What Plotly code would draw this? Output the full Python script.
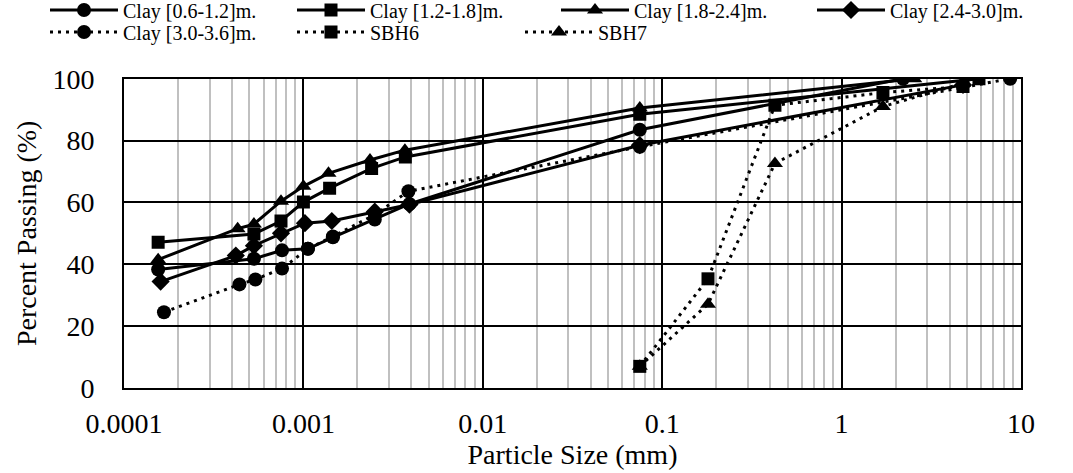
import plotly.graph_objects as go

# ---- data (particle size in mm, percent passing) ----
clay1_x = [0.000155, 0.00053, 0.00076, 0.00106, 0.00146, 0.0025, 0.0039, 0.075, 2.2]
clay1_y = [38.3, 41.8, 44.5, 45.0, 48.7, 54.5, 59.5, 83.5, 100]

clay2_x = [0.000155, 0.00053, 0.00075, 0.001, 0.0014, 0.0024, 0.0037, 0.075, 5.83]
clay2_y = [47.1, 49.8, 54.0, 60.1, 64.6, 71.0, 74.7, 88.5, 100]

clay3_x = [0.000155, 0.00043, 0.00053, 0.00075, 0.001, 0.00138, 0.00235, 0.00368, 0.075, 2.54]
clay3_y = [41.5, 51.5, 53.0, 60.4, 65.2, 69.4, 73.7, 76.9, 90.5, 100]

clay4_x = [0.00016, 0.00042, 0.00053, 0.00075, 0.00102, 0.00144, 0.0025, 0.0039, 0.075, 4.75]
clay4_y = [34.4, 42.8, 46.0, 50.0, 53.3, 54.0, 57.0, 59.3, 78.5, 98.0]

clay5_x = [0.000167, 0.00044, 0.00054, 0.00076, 0.00106, 0.00146, 0.0025, 0.00385, 0.075, 8.7]
clay5_y = [24.5, 33.5, 35.1, 38.6, 45.0, 49.0, 56.0, 63.6, 78.0, 100]

sbh6_x = [0.075, 0.18, 0.425, 1.7, 4.75]
sbh6_y = [7.0, 35.3, 91.4, 95.5, 97.5]

sbh7_x = [0.075, 0.18, 0.425, 1.7, 4.75]
sbh7_y = [7.0, 27.1, 72.6, 91.0, 98.5]

tick_vals = [0.0001, 0.001, 0.01, 0.1, 1, 10]
tick_text = ["0.0001", "0.001", "0.01", "0.1", "1", "10"]

names = ["Clay [0.6-1.2]m.", "Clay [1.2-1.8]m.", "Clay [1.8-2.4]m.", "Clay [2.4-3.0]m.",
         "Clay [3.0-3.6]m.", "SBH6", "SBH7"]

FONT = "Times New Roman, Liberation Serif, serif"
W, H = 1073, 473

series = [
    (clay1_x, clay1_y, "circle", "solid", 14),
    (clay2_x, clay2_y, "square", "solid", 13),
    (clay3_x, clay3_y, "triangle-up", "solid", 14),
    (clay4_x, clay4_y, "diamond", "solid", 14),
    (clay5_x, clay5_y, "circle", "3px,5px", 14),
    (sbh6_x, sbh6_y, "square", "3px,5px", 13),
    (sbh7_x, sbh7_y, "triangle-up", "3px,5px", 14),
]

# legend positions (pixel: left of legend box, vertical centre)
leg_pos = [(45, 10), (292, 10), (556, 10), (812, 10),
           (45, 32), (292, 32), (520, 32)]

fig = go.Figure()
for i, ((xs, ys, sym, dash, ms), nm) in enumerate(zip(series, names)):
    lg = "legend" if i == 0 else f"legend{i+1}"
    fig.add_trace(go.Scatter(
        x=xs, y=ys, name=nm, mode="lines+markers",
        line=dict(color="black", width=3, dash=dash),
        marker=dict(symbol=sym, size=ms, color="black"),
        legend=lg, showlegend=True,
    ))

layout_legends = {}
for i, (px, py) in enumerate(leg_pos):
    key = "legend" if i == 0 else f"legend{i+1}"
    layout_legends[key] = dict(
        x=px / W, y=1 - py / H, xref="container", yref="container",
        xanchor="left", yanchor="middle", orientation="h",
        bgcolor="rgba(0,0,0,0)", borderwidth=0, itemwidth=68,
        font=dict(family=FONT, size=20, color="black"),
        tracegroupgap=0,
    )

fig.update_layout(
    width=W, height=H,
    margin=dict(l=124, r=52, t=74, b=85),
    paper_bgcolor="white", plot_bgcolor="white",
    font=dict(family=FONT, size=28, color="black"),
    **layout_legends,
)

fig.update_xaxes(
    type="log", range=[-4, 1],
    tickvals=tick_vals, ticktext=tick_text,
    showgrid=True, gridcolor="black", gridwidth=2,
    minor=dict(dtick="D1", showgrid=True, gridcolor="#c0c0c0", gridwidth=2, ticks=""),
    showline=True, linecolor="black", linewidth=2, mirror=True,
    ticks="", ticklabelstandoff=9,
    tickfont=dict(family=FONT, size=28, color="black"),
    title=dict(text="Particle Size (mm)", font=dict(family=FONT, size=28, color="black"), standoff=0),
    zeroline=False,
)
fig.update_yaxes(
    range=[0, 100], dtick=20,
    showgrid=True, gridcolor="black", gridwidth=2,
    showline=True, linecolor="black", linewidth=2, mirror=True,
    ticks="", ticklabelstandoff=22,
    tickfont=dict(family=FONT, size=28, color="black"),
    title=dict(text="Percent Passing (%)", font=dict(family=FONT, size=28, color="black"), standoff=8),
    zeroline=False,
)

fig.write_html("out.html")
